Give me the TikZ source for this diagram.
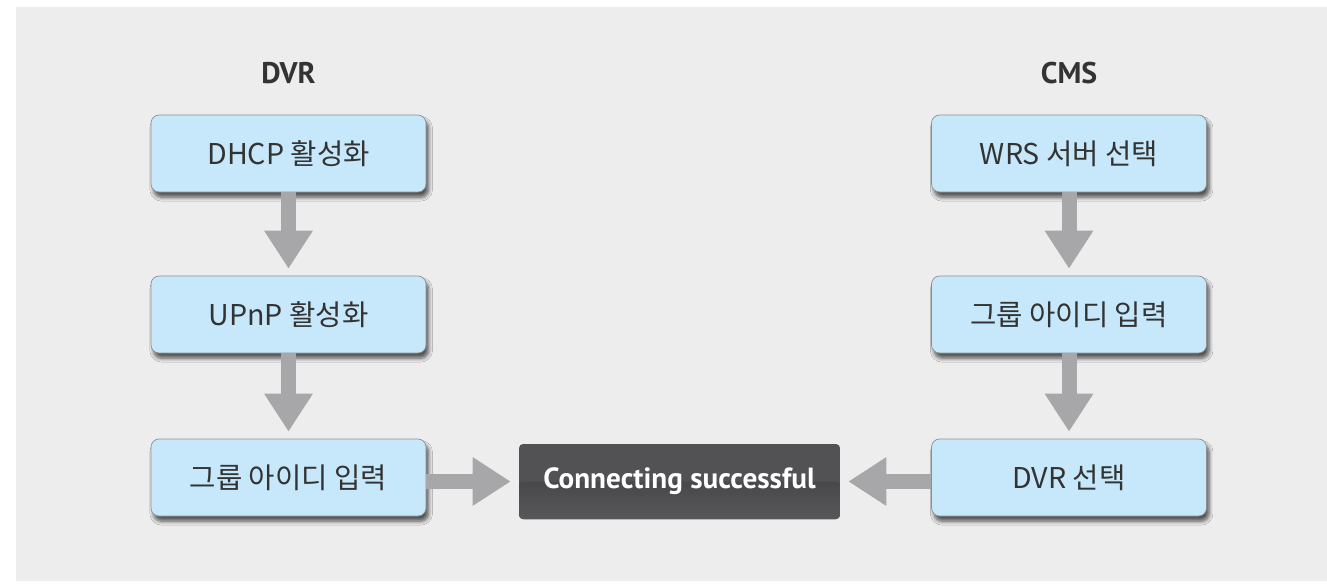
\documentclass[tikz,border=0pt]{standalone}
\usepackage{fontspec}
\setmainfont{Noto Sans CJK KR}
\newfontfamily\headfont{PT Sans}
\usetikzlibrary{arrows.meta,shadows.blur}

\definecolor{bggray}{HTML}{EDEDED}
\definecolor{boxblue}{HTML}{C6E8FA}
\definecolor{boxline}{HTML}{8C8F93}
\definecolor{arrowgray}{HTML}{A7A7AA}
\definecolor{txtgray}{HTML}{333333}
\definecolor{darktop}{HTML}{525255}
\definecolor{darklow}{HTML}{38383A}
\definecolor{darkbot}{HTML}{58585B}

\begin{document}
\begin{tikzpicture}[x=0.02cm,y=-0.02cm,
        step box/.style={draw=boxline,line width=0.4pt,fill=boxblue,rounded corners=0.16cm,
            minimum width=5.5cm,minimum height=1.54cm,text=txtgray,
            font=\fontsize{16.3}{19}\selectfont,
            blur shadow={shadow xshift=1.5pt,shadow yshift=-3pt,shadow blur steps=6,shadow opacity=65}},
        head node/.style={text=txtgray,font=\headfont\bfseries\fontsize{17}{20}\selectfont},
        done box/.style={fill=darktop,rounded corners=0.08cm,minimum width=6.42cm,minimum height=1.5cm,
            text=white,font=\headfont\bfseries\fontsize{16.6}{20}\selectfont,
            path picture={\fill[top color=darklow,bottom color=darkbot]
                (path picture bounding box.west) rectangle (path picture bounding box.south east);}},
        flow/.style={draw=arrowgray,line width=0.3cm,
            -{Triangle[width=0.92cm,length=0.76cm]}}]

        \useasboundingbox (0,0) rectangle (1327,583);
        \fill[bggray] (16,7) rectangle (1327,581);

        % Define vertices
        \node[head node] (dvr) at (288.5,73) {DVR};
        \node[head node] (cms) at (1069,73) {CMS};

        \node[step box] (l1) at (288.5,153.5) {DHCP 활성화};
        \node[step box] (l2) at (288.5,314.5) {UPnP 활성화};
        \node[step box] (l3) at (288.5,477.5) {그룹 아이디 입력};

        \node[step box] (r1) at (1069,153.5) {WRS 서버 선택};
        \node[step box] (r2) at (1069,314.5) {그룹 아이디 입력};
        \node[step box] (r3) at (1069,477.5) {DVR 선택};

        \node[done box] (done) at (679.5,481.5) {Connecting successful};

        % Draw edges
        \path[every edge/.style={flow,shorten >=0.14cm}]
            (l1) edge (l2)
            (l2) edge (l3)
            (r1) edge (r2)
            (r2) edge (r3);
        \path[every edge/.style={flow,shorten >=0.16cm}]
            (l3.east |- done.west) edge (done.west)
            (r3.west |- done.east) edge (done.east);

\end{tikzpicture}
\end{document}
